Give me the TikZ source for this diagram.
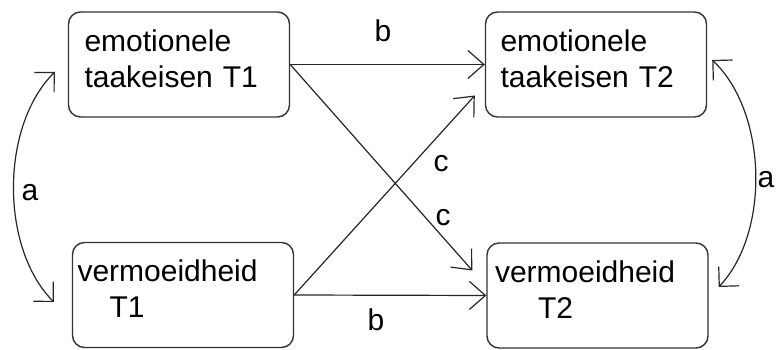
\documentclass[tikz,border=0pt]{standalone}
\usepackage{fontspec}
\setmainfont{Liberation Sans}
\usetikzlibrary{arrows.meta}

\begin{document}
\begin{tikzpicture}[x=1pt,y=1pt]
                \tikzset{Box/.style={draw=black!80, line width=1.4pt, rounded corners=12pt,
                        minimum width=221pt, minimum height=105pt, inner xsep=0pt,
                        text width=189pt, align=left, text depth=48pt,
                        font=\fontsize{30}{36}\selectfont},
                    LabelStyle/.style={font=\fontsize{30}{36}\selectfont, inner sep=0pt},
                    Arrow/.style={line width=1.2pt, draw=black!85,
                        -{Straight Barb[length=16pt,width=28pt]}},
                    BothArrow/.style={line width=1.2pt, draw=black!85,
                        {Straight Barb[length=14pt,width=28pt]}-{Straight Barb[length=14pt,width=28pt]}}}
                \useasboundingbox (0,0) rectangle (776,350);
                \node[Box] (E1) at (179,285.5) {emotionele\\taakeisen T1};
                \node[Box, text width=211pt] (V1) at (183,55) {vermoeidheid\\\hspace*{32pt}T1};
                \node[Box, text width=191pt] (E2) at (596,285.5) {emotionele\\taakeisen T2};
                \node[Box, text width=205pt] (V2) at (597.5,54.5) {vermoeidheid\\\hspace*{43pt}T2};
                \coordinate (E1a) at ([shift={(-13pt,-7.5pt)}]E1.west);
                \coordinate (V1a) at ([shift={(-18pt,-7pt)}]V1.west);
                \coordinate (E2a) at ([shift={(5pt,4.5pt)}]E2.east);
                \coordinate (V2a) at ([shift={(10pt,8.5pt)}]V2.east);
                \coordinate (E2c) at ([shift={(-10pt,-31pt)}]E2.west);
                \coordinate (V2c) at ([shift={(-14pt,25pt)}]V2.west);
                \draw[Arrow] (E1.east) -- (E2.west);
                \draw[Arrow] (V1.east) -- (V2.west);
                \draw[Arrow] (E1.east) -- (V2c);
                \draw[Arrow] (V1.east) -- (E2c);
                \draw[BothArrow] (E1a) to[bend right=45, looseness=0.85] (V1a);
                \draw[BothArrow] (E2a) to[bend left=45, looseness=0.85] (V2a);
                \node[LabelStyle] (b1) at (383,319) {b};
                \node[LabelStyle] (b2) at (376,30) {b};
                \node[LabelStyle] (c1) at (441,186) {c};
                \node[LabelStyle] (c2) at (443,132) {c};
                \node[LabelStyle] (a1) at (30,157) {a};
                \node[LabelStyle] (a2) at (766,170) {a};
            \end{tikzpicture}
\end{document}
